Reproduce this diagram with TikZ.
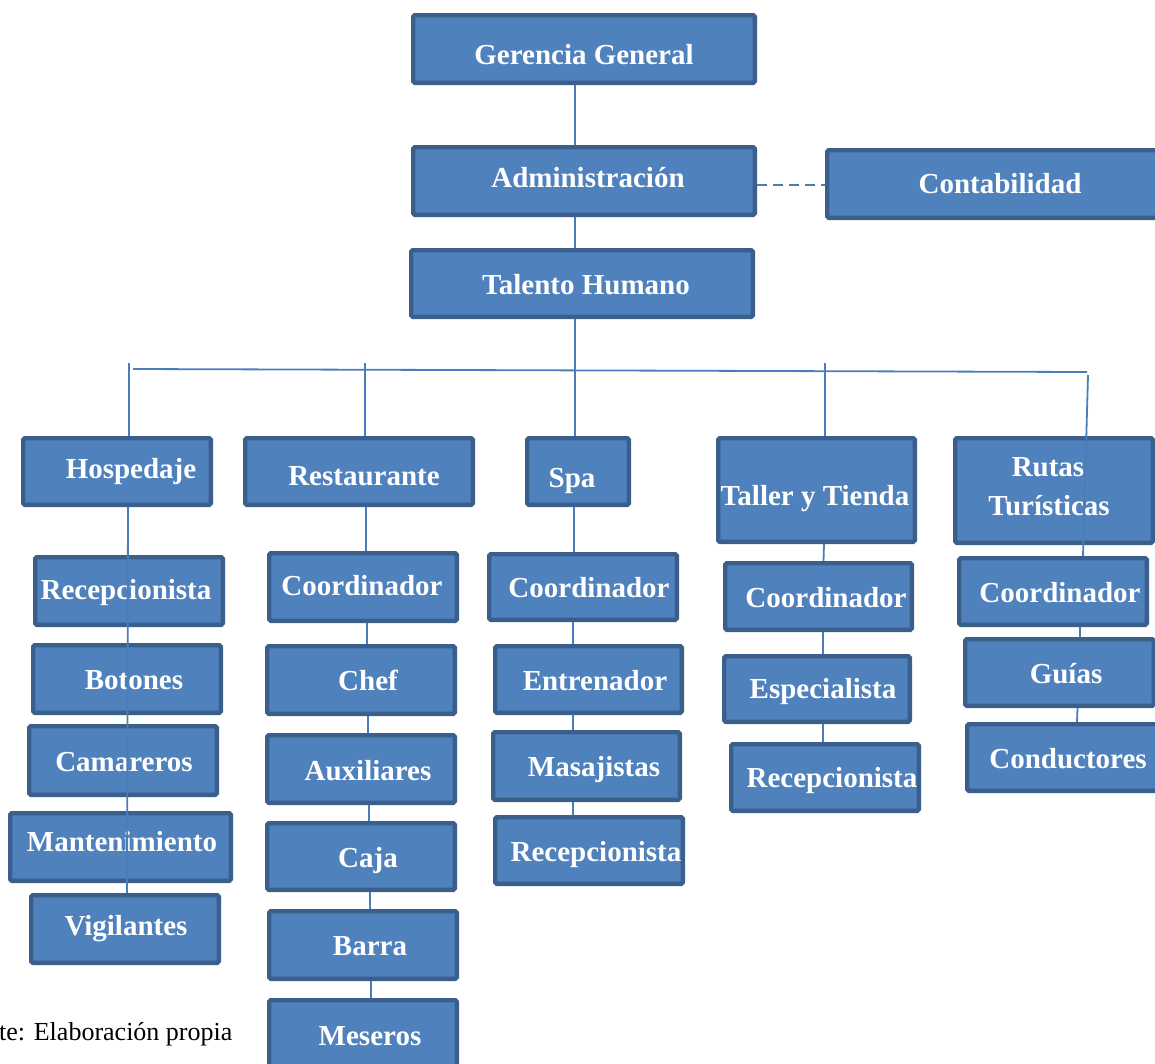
\documentclass[tikz,border=0pt]{standalone}
\usepackage{fontspec}
\setmainfont{Liberation Serif}
\definecolor{boxfill}{HTML}{4F81BD}
\definecolor{boxline}{HTML}{3A5F8B}
\definecolor{conncol}{HTML}{4A7EBB}
\tikzset{
  orgbox/.style={draw=boxline, fill=boxfill, line width=4.4pt, rounded corners=1.5pt, inner sep=0pt},
  orgtext/.style={text=white, font=\fontsize{29}{34}\selectfont\bfseries, anchor=base, inner sep=0pt},
  conline/.style={draw=conncol, line width=1.8pt},
  dashline/.style={draw=conncol, line width=1.8pt, dash pattern=on 10pt off 6pt},
  captext/.style={font=\fontsize{26}{30}\selectfont, anchor=base west, inner sep=0pt},
}
% name, x1, y1, x2, y2, text x, text y (cap centre), text
\newcommand\orgunit[8]{%
  \node[orgbox, minimum width={#4-#2-4.4}, minimum height={#5-#3-4.4}] (#1) at ({(#2+#4)/2},{(#3+#5)/2}) {};
  \node[orgtext] (#1-t) at (#6,{#7+10}) {#8};
}
\begin{document}
\begin{tikzpicture}[x=1pt,y=-1pt]
\useasboundingbox (0,0) rectangle (1155,1063);

% top
\orgunit{gg}{411}{13}{757}{85}{584}{54}{Gerencia General}
\orgunit{adm}{411}{145}{757}{217}{588}{177}{Administración}
\orgunit{cont}{825}{148}{1172}{220}{1000}{183}{Contabilidad}
\orgunit{th}{409}{248}{755}{319}{586}{284}{Talento Humano}

% level 2
\orgunit{hosp}{21}{436}{213}{507}{131}{468}{Hospedaje}
\orgunit{rest}{243}{436}{475}{507}{364}{475}{Restaurante}
\orgunit{spa}{525}{436}{631}{507}{572}{477}{Spa}
\orgunit{tall}{716}{436}{917}{544}{815}{495}{Taller y Tienda}
\node[orgbox, minimum width=197.6, minimum height=104.6] (rut) at (1054,490.5) {};
\node[orgtext] (rut-t1) at (1048,476) {Rutas};
\node[orgtext] (rut-t2) at (1049,515) {Turísticas};

% Hospedaje column
\orgunit{hrec}{33}{555}{225}{627}{126}{589}{Recepcionista}
\orgunit{hbot}{31}{643}{223}{715}{134}{679}{Botones}
\orgunit{hcam}{27}{724}{219}{797}{124}{761}{Camareros}
\orgunit{hman}{8}{811}{233}{883}{122}{841}{Mantenimiento}
\orgunit{hvig}{29}{893}{221}{965}{126}{925}{Vigilantes}

% Restaurante column
\orgunit{rcoo}{267}{551}{459}{623}{362}{585}{Coordinador}
\orgunit{rche}{265}{644}{457}{716}{368}{680}{Chef}
\orgunit{raux}{265}{733}{457}{805}{368}{770}{Auxiliares}
\orgunit{rcaj}{265}{821}{457}{892}{368}{857}{Caja}
\orgunit{rbar}{267}{909}{459}{981}{370}{945}{Barra}
\orgunit{rmes}{267}{998}{459}{1075}{370}{1035}{Meseros}

% Spa column
\orgunit{scoo}{487}{552}{679}{622}{589}{587}{Coordinador}
\orgunit{sent}{493}{644}{684}{715}{595}{680}{Entrenador}
\orgunit{smas}{491}{730}{682}{802}{594}{766}{Masajistas}
\orgunit{srec}{493}{815}{685}{886}{596}{851}{Recepcionista}

% Taller column
\orgunit{tcoo}{723}{561}{914}{632}{826}{597}{Coordinador}
\orgunit{tesp}{722}{654}{912}{724}{823}{688}{Especialista}
\orgunit{trec}{729}{742}{921}{813}{832}{777}{Recepcionista}

% Rutas column
\orgunit{ucoo}{957}{556}{1149}{627}{1060}{592}{Coordinador}
\orgunit{ugui}{963}{637}{1156}{708}{1066}{673}{Guías}
\orgunit{ucon}{965}{722}{1160}{793}{1068}{758}{Conductores}

% caption
\node[captext] (cap) at (-1,1040) {te: Elaboración propia};

% bus coordinates
\coordinate (busL) at (133,369);
\coordinate (busR) at (1087,372);
\coordinate (hospTop) at (129,363);
\coordinate (restTop) at (365,363);
\coordinate (tallTop) at (825,363);
\coordinate (rutTop) at (1088,375);

% connectors
\draw[conline] ([xshift=-9pt]gg.south) -- ([xshift=-9pt]adm.north);
\draw[conline] ([xshift=-9pt]adm.south) -- ([xshift=-7pt]th.north);
\draw[conline] ([xshift=-7pt]th.south) -- ([xshift=-3pt]spa.north);
\draw[dashline] ([yshift=-4pt]adm.east) -- ([yshift=-1pt]cont.west);
\draw[conline] (busL) -- (busR);
\draw[conline] (hospTop) -- ([xshift=12pt]hosp.north);
\draw[conline] (restTop) -- ([xshift=6pt]rest.north);
\draw[conline] (tallTop) -- ([xshift=8.5pt]tall.north);
\draw[conline] (rutTop) -- ([xshift=30pt]ucoo.north);

\draw[conline] ([xshift=11pt]hosp.south) -- ([xshift=2pt]hvig.north);

\draw[conline] ([xshift=7pt]rest.south) -- ([xshift=3pt]rcoo.north);
\draw[conline] ([xshift=4pt]rcoo.south) -- ([xshift=6pt]rche.north);
\draw[conline] ([xshift=7pt]rche.south) -- ([xshift=7pt]raux.north);
\draw[conline] ([xshift=8pt]raux.south) -- ([xshift=8pt]rcaj.north);
\draw[conline] ([xshift=9pt]rcaj.south) -- ([xshift=7pt]rbar.north);
\draw[conline] ([xshift=8pt]rbar.south) -- ([xshift=8pt]rmes.north);

\draw[conline] ([xshift=-4pt]spa.south) -- ([xshift=-9pt]scoo.north);
\draw[conline] ([xshift=-10pt]scoo.south) -- ([xshift=-15.5pt]sent.north);
\draw[conline] ([xshift=-15.5pt]sent.south) -- ([xshift=-13.5pt]smas.north);
\draw[conline] ([xshift=-13.5pt]smas.south) -- ([xshift=-16pt]srec.north);

\draw[conline] ([xshift=7.5pt]tall.south) -- ([xshift=5pt]tcoo.north);
\draw[conline] ([xshift=4.5pt]tcoo.south) -- ([xshift=6pt]tesp.north);
\draw[conline] ([xshift=6pt]tesp.south) -- ([xshift=-2pt]trec.north);

\draw[conline] ([xshift=27pt]ucoo.south) -- ([xshift=20.5pt]ugui.north);
\draw[conline] ([xshift=18pt]ugui.south) -- ([xshift=14.5pt]ucon.north);
\end{tikzpicture}
\end{document}
